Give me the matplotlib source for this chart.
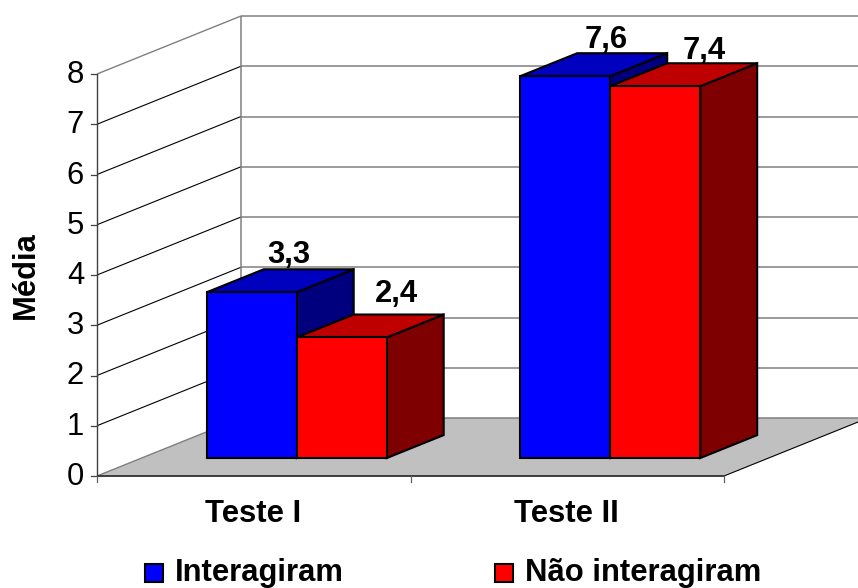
import matplotlib
matplotlib.use('Agg')
import matplotlib.pyplot as plt
from matplotlib.patches import Polygon, Rectangle

plt.rcParams['font.family'] = ['Liberation Sans', 'DejaVu Sans']

#chart data
categories = ['Teste I', 'Teste II']
series_names = ['Interagiram', 'Não interagiram']
interagiram = [3.3, 7.6]
nao_interagiram = [2.4, 7.4]
value_ticks = [0, 1, 2, 3, 4, 5, 6, 7, 8]

#pixel layout of the fake 3d box
x0, y0 = 97, 476
cat_w = 313.5
unit_h = 50.25
depth_x, depth_y = 144, 58
ymax = 8

#bars sit part way into the depth of the box
gap = 0.208
bar_w = 0.287
bar_front = 0.31
bar_back = 0.705

#faces: front, top, side
blues = ['#0000ff', '#0000bf', '#00007f']
reds = ['#ff0000', '#bf0000', '#7f0000']


def project(cat, val, depth=0.0):
    '''turns category position, value and depth into figure pixels'''
    return (x0 + cat * cat_w + depth * depth_x, y0 - val * unit_h - depth * depth_y)


def face(ax, pts, color, edge='none', lw=0, z=1):
    ax.add_patch(Polygon([project(*p) for p in pts], closed=True, facecolor=color,
                         edgecolor=edge, linewidth=lw, joinstyle='miter', zorder=z))


def line(ax, a, b, color, lw, z=2):
    xa, ya = project(*a)
    xb, yb = project(*b)
    ax.plot([xa, xb], [ya, yb], color=color, linewidth=lw, solid_capstyle='butt', zorder=z)


def draw_bar(ax, left, val, colors, z):
    right = left + bar_w
    edge = dict(edge='black', lw=1.5, z=z)
    face(ax, [(right, 0, bar_front), (right, 0, bar_back), (right, val, bar_back), (right, val, bar_front)], colors[2], **edge)
    face(ax, [(left, val, bar_front), (right, val, bar_front), (right, val, bar_back), (left, val, bar_back)], colors[1], **edge)
    face(ax, [(left, 0, bar_front), (right, 0, bar_front), (right, val, bar_front), (left, val, bar_front)], colors[0], **edge)


fig = plt.figure(figsize=(8.58, 5.88), dpi=100)
ax = fig.add_axes([0, 0, 1, 1])
ax.set_xlim(0, 858)
ax.set_ylim(588, 0)
ax.axis('off')

#floor of the box
face(ax, [(0, 0, 0), (2, 0, 0), (2, 0, 1), (0, 0, 1)], '#c0c0c0', z=1)

#gridlines on the back wall and the left wall
for v in value_ticks:
    line(ax, (0, v, 1), (2, v, 1), '#808080', 1.1)
    if 0 < v < ymax:
        line(ax, (0, v, 0), (0, v, 1), 'black', 0.8)
line(ax, (0, ymax, 0), (0, ymax, 1), '#808080', 1.0)
line(ax, (0, 0, 0), (0, 0, 1), '#808080', 1.0)
line(ax, (0, 0, 1), (0, ymax, 1), '#808080', 1.1)
line(ax, (2, 0, 0), (2, 0, 1), 'black', 0.8)

#axes and ticks
line(ax, (0, 0, 0), (0, ymax, 0), '#404040', 1.0)
line(ax, (0, 0, 0), (2, 0, 0), '#303030', 1.3)
for v in value_ticks:
    x, y = project(0, v)
    ax.plot([x - 6, x], [y, y], color='#404040', linewidth=0.9, zorder=2)
    ax.text(84, y + 1, str(v), ha='right', va='center', fontsize=22.3, color='black')
for i in range(3):
    x, y = project(i, 0)
    ax.plot([x, x], [y, y + 6], color='#606060', linewidth=0.9, zorder=2)

#bars, blue first so the red one covers its side
z = 3
for i in range(len(categories)):
    draw_bar(ax, i + gap, interagiram[i], blues, z)
    draw_bar(ax, i + gap + bar_w, nao_interagiram[i], reds, z + 1)
    z += 2

#value labels, nudged over the top of each bar
label_dx = [[37, 55], [40.5, 48.5]]
label_dy = [[29, 35], [28, 27]]
for i in range(len(categories)):
    for j, vals in enumerate([interagiram, nao_interagiram]):
        x, y = project(i + gap + (j + 0.5) * bar_w, vals[i], bar_front)
        ax.text(x + label_dx[i][j], y - label_dy[i][j], str(vals[i]).replace('.', ','),
                ha='center', va='baseline', fontsize=22.3, fontweight='bold', zorder=10)

#category labels
for name, xc in zip(categories, [253, 566.5]):
    ax.text(xc, 522, name, ha='center', va='baseline', fontsize=22.3, fontweight='bold')

ax.text(26, 275, 'Média', rotation=90, ha='center', va='center', fontsize=22.3, fontweight='bold')

#legend
for name, color, xp in zip(series_names, [blues[0], reds[0]], [145, 495]):
    ax.add_patch(Rectangle((xp, 564), 18, 18, facecolor=color, edgecolor='black', linewidth=1.5))
    ax.text(xp + 30, 581, name, ha='left', va='baseline', fontsize=22.3, fontweight='bold')

fig.savefig('out.png', dpi=100)
